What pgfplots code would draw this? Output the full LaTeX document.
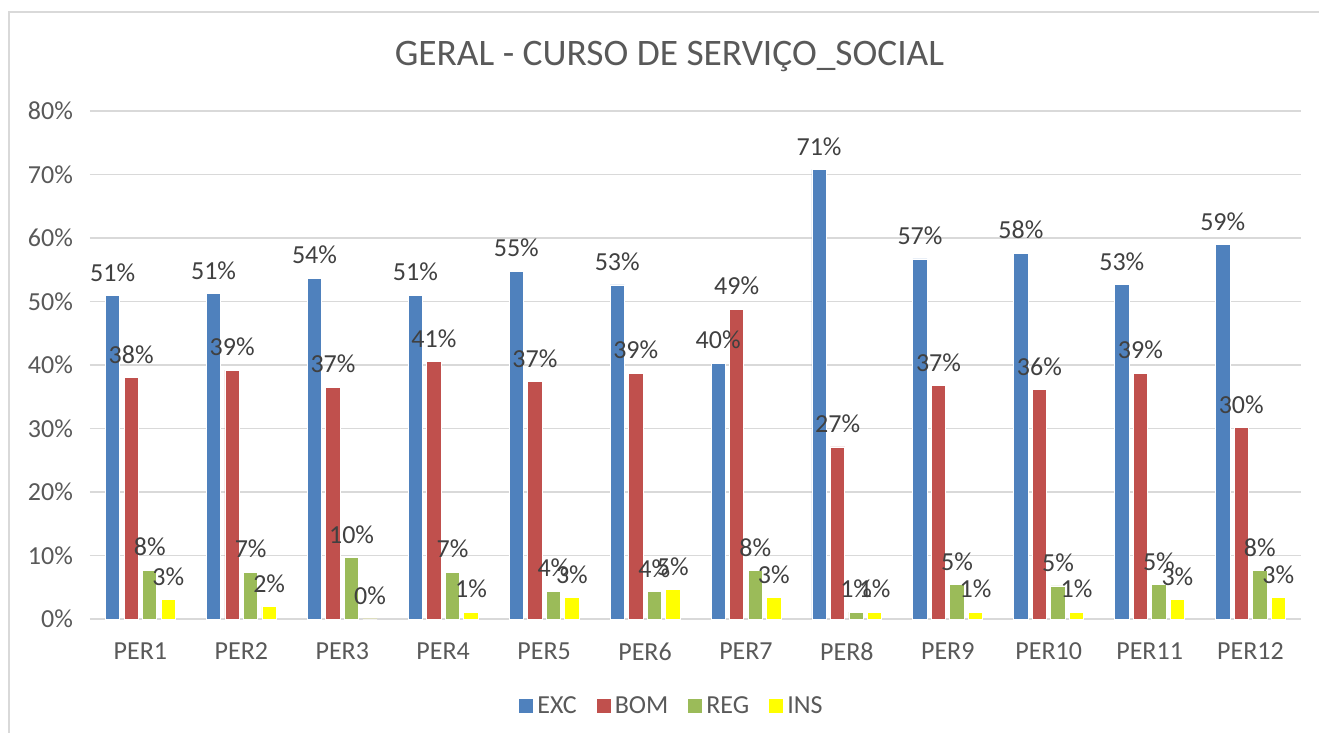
\documentclass[border=0pt]{standalone}
\usepackage{fontspec}
\setmainfont{Carlito}
\usepackage{pgfplots}
\usepackage{pgfplotstable}
\pgfplotsset{compat=1.18}

\definecolor{exc}{HTML}{4F81BD}
\definecolor{bom}{HTML}{C0504D}
\definecolor{reg}{HTML}{9BBB59}
\definecolor{ins}{HTML}{FFFF00}
\definecolor{txt}{HTML}{595959}
\definecolor{lbl}{HTML}{404040}
\definecolor{grd}{HTML}{D9D9D9}

% percentagens por periodo (0 = PER1 ... 11 = PER12)
\pgfplotstableread{
per exc  bom  reg ins
0   50.9 38.0 7.7 3.1
1   51.2 39.2 7.4 2.0
2   53.7 36.5 9.7 0.0
3   51.0 40.5 7.4 1.1
4   54.8 37.4 4.4 3.4
5   52.6 38.7 4.3 4.6
6   40.3 48.8 7.6 3.4
7   70.8 27.1 1.1 1.1
8   56.7 36.8 5.4 1.1
9   57.6 36.1 5.2 1.1
10  52.7 38.7 5.4 3.1
11  59.0 30.1 7.6 3.4
}\geral

\begin{document}
\begin{tikzpicture}
\useasboundingbox (0,0) rectangle (659.5pt,366.5pt);
\draw[grd, line width=0.8pt] (4.5pt,0) -- (4.5pt,360.5pt) -- (659.5pt,360.5pt);
\node[txt, font=\fontsize{18.7}{22}\selectfont] at (334.75pt,338pt) {GERAL - CURSO DE SERVIÇO\_SOCIAL};
\begin{axis}[
    scale only axis,
    width=605.5pt, height=254pt,
    at={(45pt,57pt)}, anchor=south west,
    xmin=-0.5, xmax=11.5,
    ymin=0, ymax=80,
    xtick={0,...,11},
    xticklabels={PER1,PER2,PER3,PER4,PER5,PER6,PER7,PER8,PER9,PER10,PER11,PER12},
    ytick={0,10,...,80},
    yticklabel={\pgfmathprintnumber{\tick}\%},
    /pgf/number format/assume math mode=true,
    major tick length=0pt,
    axis line style={draw=none},
    ymajorgrids,
    grid style={grd, line width=0.8pt},
    extra y ticks={0},
    extra y tick labels={},
    extra y tick style={grid style={grd, line width=1.2pt}},
    ticklabel style={txt, font=\fontsize{13}{15}\selectfont},
    xticklabel style={yshift=-8.5pt},
    yticklabel style={xshift=-5pt},
    ybar, bar width=0.142,
    nodes near coords={\pgfmathprintnumber[fixed,precision=0]{\pgfplotspointmeta}\%},
    nodes near coords style={lbl, font=\fontsize{13}{15}\selectfont, yshift=3.5pt},
    legend columns=4,
    legend style={at={(0.4814,-0.172)}, anchor=center, draw=none,
        font=\fontsize{13}{15}\selectfont, text=txt,
        /tikz/every even column/.append style={column sep=8pt}},
    legend image code/.code={\fill[#1,draw=none] (0pt,-3.5pt) rectangle (7pt,3.5pt);},
    clip=false,
]
\addplot[fill=exc, draw=white, line width=0.4pt, bar shift=-0.2753] table[x=per,y=exc] {\geral};
\addplot[fill=bom, draw=white, line width=0.4pt, bar shift=-0.0918] table[x=per,y=bom] {\geral};
\addplot[fill=reg, draw=white, line width=0.4pt, bar shift=0.0918] table[x=per,y=reg] {\geral};
\addplot[fill=ins, draw=white, line width=0.4pt, bar shift=0.2753] table[x=per,y=ins] {\geral};
\legend{EXC,BOM,REG,INS}
\end{axis}
\end{tikzpicture}
\end{document}
